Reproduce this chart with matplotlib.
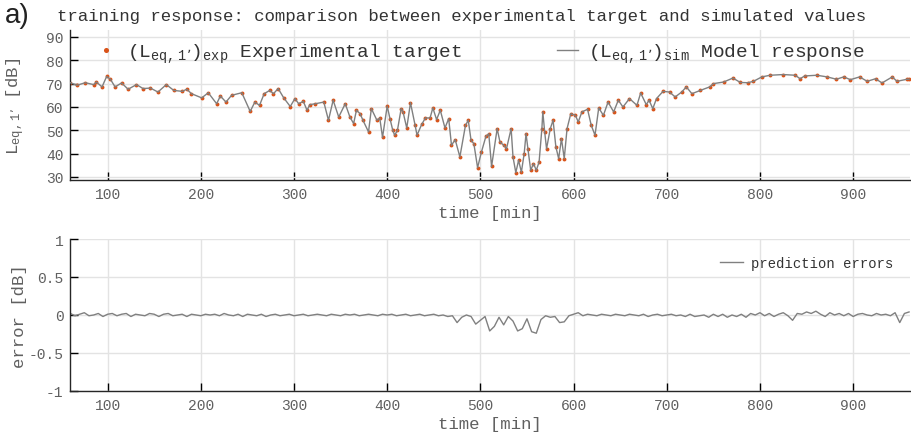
#!/usr/bin/env python
"""Training response: experimental target vs simulated Leq,1' values."""

import matplotlib

matplotlib.use("Agg")
import matplotlib.pyplot as plt
import numpy as np

# experimental target (time [min], level [dB])
t_exp = [
    60, 67, 76, 85, 88, 94, 99, 103, 108, 115, 122, 131, 138, 146, 154,
    163, 171, 180, 185, 190, 201, 208, 217, 221, 227, 233, 244, 253, 258,
    263, 268, 274, 278, 283, 289, 296, 301, 305, 310, 314, 317, 323, 332,
    337, 342, 348, 355, 360, 364, 367, 371, 374, 380, 383, 389, 392, 395,
    400, 403, 406, 408, 411, 415, 417, 421, 425, 430, 432, 437, 441, 446,
    449, 453, 457, 462, 466, 469, 473, 478, 484, 487, 490, 493, 497, 501,
    506, 509, 512, 518, 521, 525, 528, 533, 535, 538, 541, 544, 547, 549,
    551, 554, 557, 560, 563, 566, 567, 569, 571, 575, 578, 581, 584, 587,
    590, 593, 597, 602, 605, 609, 615, 619, 623, 627, 632, 637, 643, 648,
    653, 660, 668, 672, 678, 681, 685, 689, 696, 703, 709, 716, 721, 727,
    736, 746, 750, 761, 771, 779, 787, 793, 802, 811, 825, 838, 843, 848,
    861, 872, 882, 890, 897, 907, 915, 924, 931, 942, 947, 958, 960,
]
leq_exp = [
    70.4, 69.3, 70.4, 69.6, 70.7, 68.6, 73.1, 71.9, 68.6, 70.3, 67.6, 69.6,
    67.9, 68.1, 66.4, 69.6, 67.1, 66.7, 67.6, 65.7, 63.9, 66.1, 61.4, 64.7,
    62.1, 65.0, 66.1, 58.1, 62.1, 60.7, 65.7, 67.1, 65.7, 67.9, 63.9, 60.2,
    63.6, 61.4, 62.4, 58.6, 61.0, 61.4, 62.1, 54.3, 62.9, 55.7, 61.4, 55.7,
    52.9, 58.6, 57.1, 54.3, 49.3, 59.3, 54.3, 55.3, 47.0, 60.4, 55.0, 50.0,
    47.9, 50.0, 59.3, 57.9, 51.0, 61.8, 52.1, 47.9, 52.5, 55.3, 55.3, 59.6,
    54.6, 58.6, 51.0, 55.0, 43.6, 46.0, 38.6, 52.1, 54.3, 45.7, 44.3, 34.0,
    40.5, 47.5, 48.5, 34.5, 50.7, 45.0, 43.6, 42.1, 50.7, 38.6, 31.9, 37.1,
    32.1, 40.0, 48.6, 42.1, 32.9, 35.7, 32.9, 36.4, 50.7, 57.9, 49.3, 42.1,
    50.7, 54.3, 42.9, 37.9, 46.4, 37.9, 50.7, 57.1, 56.4, 53.6, 57.9, 59.0,
    52.1, 47.9, 59.6, 56.4, 62.1, 57.9, 62.9, 60.0, 63.6, 60.7, 66.0, 61.0,
    62.9, 59.3, 63.6, 66.7, 66.4, 64.3, 66.4, 68.6, 65.7, 67.1, 68.6, 70.0,
    70.7, 72.4, 70.5, 70.4, 71.0, 72.9, 73.6, 73.9, 73.6, 72.1, 73.3, 73.6,
    72.9, 71.9, 72.9, 71.7, 72.9, 71.0, 72.1, 70.3, 72.9, 71.0, 71.9, 71.9,
]
# model response: identical to the target at this scale (errors < 0.25 dB)
leq_sim = leq_exp

# prediction errors [dB], every 5 min from 60 to 960
t_err = np.arange(60, 961, 5)
err = [
    0.02, -0.01, 0.01, 0.03, -0.01, 0.0, 0.02, -0.02, 0.01, 0.02,
    -0.01, 0.01, 0.02, -0.02, 0.01, 0.0, -0.01, 0.02, 0.01, -0.02,
    0.01, 0.02, -0.01, 0.0, 0.01, -0.02, 0.01, 0.0, -0.01, 0.01,
    0.0, 0.01, -0.01, 0.02, 0.0, -0.01, 0.01, -0.02, 0.01, 0.0,
    -0.01, 0.01, -0.02, 0.0, 0.01, -0.01, 0.0, 0.01, -0.01, 0.0,
    0.01, -0.01, 0.0, 0.01, 0.0, -0.01, 0.01, 0.0, -0.01, 0.01,
    0.0, 0.01, -0.01, 0.0, 0.01, 0.0, -0.01, 0.01, 0.0, 0.01,
    -0.01, 0.0, 0.01, -0.01, 0.0, 0.01, -0.01, 0.0, 0.01, -0.01,
    0.0, -0.02, -0.01, -0.10, -0.03, 0.0, -0.02, -0.12, -0.07, -0.02,
    -0.21, -0.15, -0.03, -0.13, -0.02, -0.08, -0.21, -0.18, -0.05, -0.22,
    -0.24, -0.06, -0.01, -0.03, -0.02, -0.10, -0.09, -0.01, 0.01, 0.03,
    -0.01, 0.01, 0.0, -0.01, 0.01, 0.0, -0.01, 0.01, 0.0, -0.01,
    0.01, 0.0, -0.01, 0.01, -0.02, 0.0, 0.01, -0.01, 0.0, 0.01,
    -0.01, 0.0, -0.02, 0.01, -0.02, -0.01, 0.0, -0.03, 0.01, -0.02,
    0.01, -0.03, 0.0, -0.02, 0.01, -0.03, 0.02, 0.0, 0.03, -0.01,
    0.02, -0.02, 0.01, 0.03, -0.01, -0.07, 0.02, 0.01, 0.04, 0.02,
    0.05, 0.01, -0.02, 0.03, 0.0, 0.02, -0.01, 0.02, -0.02, 0.01,
    0.02, 0.0, -0.01, 0.02, 0.0, 0.01, -0.01, 0.03, -0.10, 0.02,
    0.04,
]

x_ticks = [100, 200, 300, 400, 500, 600, 700, 800, 900]
y_ticks_top = [30, 40, 50, 60, 70, 80, 90]
y_ticks_err = [-1, -0.5, 0, 0.5, 1]
y_ticklabels_err = ["-1", "-0.5", "0", "0.5", "1"]

ORANGE = "#D95319"
GREY = "#808080"
TXT = "#606060"

plt.rcParams["font.family"] = ["Liberation Mono", "DejaVu Sans"]
plt.rcParams["mathtext.default"] = "regular"
plt.rcParams["axes.unicode_minus"] = False


def style_axes(ax):
    for side in ("top", "right"):
        ax.spines[side].set_visible(False)
    for side in ("left", "bottom"):
        ax.spines[side].set_color("#262626")
        ax.spines[side].set_linewidth(1.0)
    ax.grid(True, color="#e3e3e3", linewidth=1.0)
    ax.set_axisbelow(True)
    ax.tick_params(direction="in", length=6, width=1.0, color="#000000",
                   labelcolor=TXT, labelsize=10.5, pad=5)
    ax.set_xticks(x_ticks)
    ax.set_xlim(60, 961)


def main():
    fig = plt.figure(figsize=(9.11, 4.39), dpi=100)
    ax1 = fig.add_axes([0.0772, 0.5877, 0.9217, 0.3417])
    ax2 = fig.add_axes([0.0772, 0.1071, 0.9217, 0.3462])

    # top: target vs model
    style_axes(ax1)
    ax1.plot(t_exp, leq_exp, linestyle="none", marker="o", markersize=2.8,
             markeredgewidth=0, color=ORANGE, zorder=2,
             label="$(L_{eq,1\u2019})_{exp}$ Experimental target")
    ax1.plot(t_exp, leq_sim, color=GREY, linewidth=1.0, zorder=3,
             label="$(L_{eq,1\u2019})_{sim}$ Model response")
    ax1.set_ylim(28.7, 93)
    ax1.set_yticks(y_ticks_top)
    ax1.set_xlabel("time [min]", fontsize=12.5, color=TXT, labelpad=3)
    ax1.set_ylabel("$L_{eq,1\u2019}$ [dB]", fontsize=12.5, color=TXT)
    ax1.yaxis.set_label_coords(-0.052, 0.5)
    leg = ax1.legend(loc="upper center", bbox_to_anchor=(0.488, 1.0), ncol=2,
                     frameon=False, fontsize=14, handlelength=1.1,
                     handletextpad=0.5, columnspacing=4.9, borderaxespad=0.2,
                     markerscale=1.3)
    for txt in leg.get_texts():
        txt.set_color("#333333")

    # bottom: prediction errors
    style_axes(ax2)
    ax2.plot(t_err, err, color=GREY, linewidth=1.0, label="prediction errors")
    ax2.set_ylim(-1, 1)
    ax2.set_yticks(y_ticks_err)
    ax2.set_yticklabels(y_ticklabels_err)
    ax2.set_xlabel("time [min]", fontsize=12.5, color=TXT, labelpad=3)
    ax2.set_ylabel("error [dB]", fontsize=12.5, color=TXT)
    ax2.yaxis.set_label_coords(-0.052, 0.5)
    leg2 = ax2.legend(loc="upper right", frameon=False, fontsize=10,
                      handlelength=1.6, handletextpad=0.6, borderaxespad=0.8)
    for txt in leg2.get_texts():
        txt.set_color("#333333")

    fig.text(5 / 911, 1 - 16 / 439, "a)", family="Liberation Sans",
             fontsize=20, color="#222222", va="center", ha="left")
    fig.text(57 / 911, 1 - 16 / 439,
             "training response: comparison between experimental target "
             "and simulated values",
             fontsize=12.5, color="#333333", va="center", ha="left")

    fig.savefig("out.png", dpi=100)


if __name__ == "__main__":
    main()
